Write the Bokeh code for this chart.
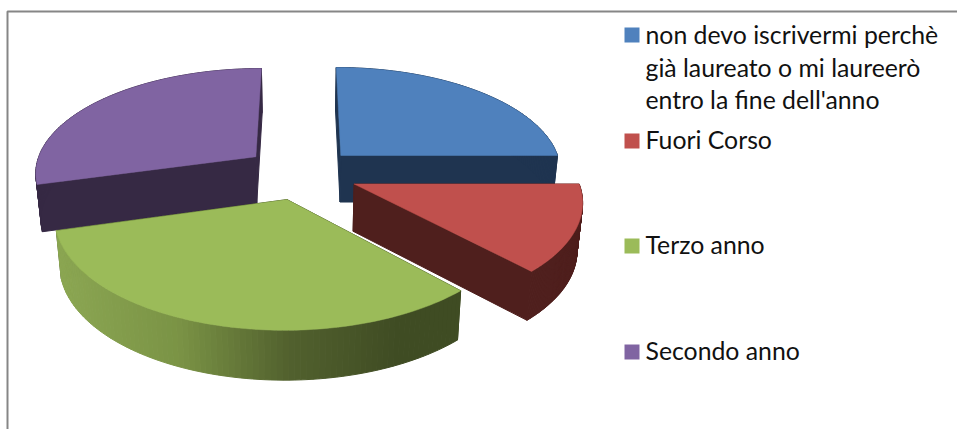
import numpy as np
from bokeh.plotting import figure
from bokeh.models import Range1d
from bokeh.core.properties import value
from bokeh.embed import file_html
from bokeh.resources import INLINE

categories = ["non devo iscrivermi perchè", "Fuori Corso", "Terzo anno", "Secondo anno"]
legend_lines = [["non devo iscrivermi perchè", "già laureato o mi laureerò", "entro la fine dell'anno"],
                ["Fuori Corso"], ["Terzo anno"], ["Secondo anno"]]
values = [25.0, 13.0, 32.7, 29.3]
top_colors = ["#4f81bd", "#c0504d", "#9bbb59", "#8064a2"]
side_colors = ["#1f3450", "#4f1f1d", None, "#362944"]
explode = [0.25, 0.25, 0.25, 0.27]
green_stops_x = [60, 180, 290, 400, 470]
green_stops_rgb = [(139, 166, 82), (122, 147, 69), (82, 97, 46), (63, 76, 35), (63, 76, 35)]

W, H = 957, 429
CX, CY, A, B, K = 302.0, 173.0, 222.0, 104.7, 0.138
DEPTH, SHRINK = 47.0, 0.98

p = figure(width=W, height=H, output_backend="svg", toolbar_location=None,
           x_range=Range1d(0, W), y_range=Range1d(H, 0), min_border=0)
p.axis.visible = False
p.grid.visible = False
p.outline_line_color = None
p.background_fill_color = "white"
p.border_fill_color = "white"


def top(X, Y):
    s = 1 + K * Y
    return CX + A * X / s, CY - B * Y / s


def bottom(X, Y):
    x, y = top(X, Y)
    return CX + SHRINK * (x - CX), y + DEPTH * (1 - 0.05 * Y)


def quad(fn1, fn2, P, Q, color):
    x1, y1 = fn1(*P)
    x2, y2 = fn1(*Q)
    x3, y3 = fn2(*Q)
    x4, y4 = fn2(*P)
    p.patch([x1, x2, x3, x4], [y1, y2, y3, y4], fill_color=color, line_color=color, line_width=1.0)


total = sum(values)
start = np.pi / 2
slices = []
for v in values:
    end = start - 2 * np.pi * v / total
    slices.append((start, end))
    start = end

order = [3, 0, 2, 1]
for i in order:
    a0, a1 = slices[i]
    mid = (a0 + a1) / 2
    ox, oy = explode[i] * np.cos(mid), explode[i] * np.sin(mid)
    ts = np.linspace(a0, a1, 90)
    rim = [(ox + np.cos(t), oy + np.sin(t)) for t in ts]
    apex = (ox, oy)
    side = side_colors[i]
    for P, Q in ((apex, rim[0]), (apex, rim[-1])):
        quad(top, bottom, P, Q, side if side else "#3f4c23")
    for P, Q in zip(rim[:-1], rim[1:]):
        if side:
            color = side
        else:
            xm = top(*P)[0]
            rgb = [np.interp(xm, green_stops_x, [c[j] for c in green_stops_rgb]) for j in range(3)]
            color = "#%02x%02x%02x" % tuple(int(round(c)) for c in rgb)
        quad(top, bottom, P, Q, color)
    pts = [apex] + rim
    xs, ys = zip(*[top(*q) for q in pts])
    p.patch(list(xs), list(ys), fill_color=top_colors[i], line_color=top_colors[i], line_width=0.5)

# chart frame (left and top edges)
p.line([7, 7, W], [H, 11, 11], line_color="#868686", line_width=2)

# legend
swatch_tops = [27, 133, 238, 344]
baselines = [[33.5, 66.5, 98.5], [138.5], [243.5], [349.5]]
for c, sy, lines, bl in zip(top_colors, swatch_tops, legend_lines, baselines):
    p.quad(left=624, right=639, top=sy, bottom=sy + 15, fill_color=c, line_color=None)
    p.text(x=[645] * len(lines), y=bl, text=lines, text_font=value("Lato"), text_font_size="24.8px",
           text_color="#111111", text_baseline="alphabetic", text_align="left")

open("out.html", "w").write(file_html(p, INLINE))
